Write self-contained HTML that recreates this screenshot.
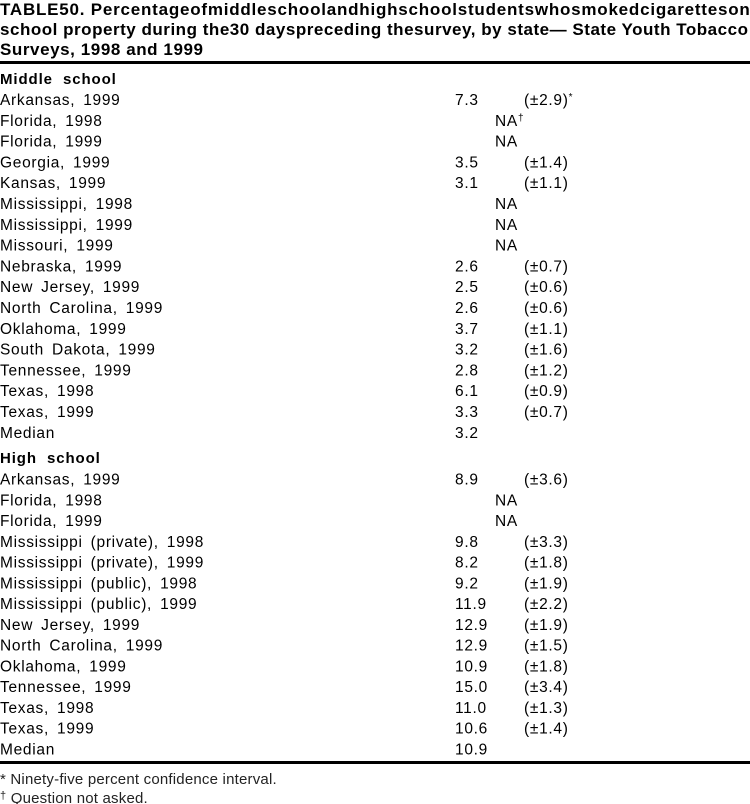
<!DOCTYPE html>
<html><head><meta charset="utf-8"><style>
html,body{margin:0;padding:0;background:#fff;}
svg{display:block;}
.t{font-family:"Liberation Sans",Arial,sans-serif;font-weight:bold;font-size:17px;fill:#000;}
.r{font-family:"Liberation Sans",Arial,sans-serif;font-size:15.5px;fill:#000;letter-spacing:0.7px;word-spacing:3px;}
.h{font-family:"Liberation Sans",Arial,sans-serif;font-size:15px;font-weight:bold;fill:#000;letter-spacing:0.9px;word-spacing:5px;}
.f{font-family:"Liberation Sans",Arial,sans-serif;font-size:15px;fill:#222;letter-spacing:0.2px;}
.s{font-size:10px;}
.fs{font-size:11px;}
</style></head><body>
<svg width="750" height="804" viewBox="0 0 750 804" xmlns="http://www.w3.org/2000/svg">
<text class="t" x="0" y="15" textLength="760" lengthAdjust="spacing">TABLE50. Percentageofmiddleschoolandhighschoolstudentswhosmokedcigarettesons</text>
<text class="t" x="0" y="35" textLength="748" lengthAdjust="spacing">school property during the30 dayspreceding thesurvey, by state— State Youth Tobacco</text>
<text class="t" x="0" y="55" textLength="203" lengthAdjust="spacing">Surveys, 1998 and 1999</text>
<rect x="0" y="61" width="750" height="3" fill="#000"/>

<text class="h" x="0" y="84">Middle school</text>
<g class="r">
<text x="0" y="105">Arkansas, 1999</text><text x="455" y="105">7.3</text><text x="524" y="105">(±2.9)<tspan class="s" dy="-5">*</tspan></text>
<text x="0" y="125.8">Florida, 1998</text><text x="495" y="125.8">NA<tspan class="s" dy="-5">†</tspan></text>
<text x="0" y="146.6">Florida, 1999</text><text x="495" y="146.6">NA</text>
<text x="0" y="167.4">Georgia, 1999</text><text x="455" y="167.4">3.5</text><text x="524" y="167.4">(±1.4)</text>
<text x="0" y="188.2">Kansas, 1999</text><text x="455" y="188.2">3.1</text><text x="524" y="188.2">(±1.1)</text>
<text x="0" y="209">Mississippi, 1998</text><text x="495" y="209">NA</text>
<text x="0" y="229.8">Mississippi, 1999</text><text x="495" y="229.8">NA</text>
<text x="0" y="250.6">Missouri, 1999</text><text x="495" y="250.6">NA</text>
<text x="0" y="271.4">Nebraska, 1999</text><text x="455" y="271.4">2.6</text><text x="524" y="271.4">(±0.7)</text>
<text x="0" y="292.2">New Jersey, 1999</text><text x="455" y="292.2">2.5</text><text x="524" y="292.2">(±0.6)</text>
<text x="0" y="313">North Carolina, 1999</text><text x="455" y="313">2.6</text><text x="524" y="313">(±0.6)</text>
<text x="0" y="333.8">Oklahoma, 1999</text><text x="455" y="333.8">3.7</text><text x="524" y="333.8">(±1.1)</text>
<text x="0" y="354.6">South Dakota, 1999</text><text x="455" y="354.6">3.2</text><text x="524" y="354.6">(±1.6)</text>
<text x="0" y="375.4">Tennessee, 1999</text><text x="455" y="375.4">2.8</text><text x="524" y="375.4">(±1.2)</text>
<text x="0" y="396.2">Texas, 1998</text><text x="455" y="396.2">6.1</text><text x="524" y="396.2">(±0.9)</text>
<text x="0" y="417">Texas, 1999</text><text x="455" y="417">3.3</text><text x="524" y="417">(±0.7)</text>
<text x="0" y="437.8">Median</text><text x="455" y="437.8">3.2</text>
</g>

<text class="h" x="0" y="463">High school</text>
<g class="r">
<text x="0" y="484.5">Arkansas, 1999</text><text x="455" y="484.5">8.9</text><text x="524" y="484.5">(±3.6)</text>
<text x="0" y="505.3">Florida, 1998</text><text x="495" y="505.3">NA</text>
<text x="0" y="526">Florida, 1999</text><text x="495" y="526">NA</text>
<text x="0" y="546.8">Mississippi (private), 1998</text><text x="455" y="546.8">9.8</text><text x="524" y="546.8">(±3.3)</text>
<text x="0" y="567.6">Mississippi (private), 1999</text><text x="455" y="567.6">8.2</text><text x="524" y="567.6">(±1.8)</text>
<text x="0" y="588.4">Mississippi (public), 1998</text><text x="455" y="588.4">9.2</text><text x="524" y="588.4">(±1.9)</text>
<text x="0" y="609.1">Mississippi (public), 1999</text><text x="455" y="609.1">11.9</text><text x="524" y="609.1">(±2.2)</text>
<text x="0" y="629.9">New Jersey, 1999</text><text x="455" y="629.9">12.9</text><text x="524" y="629.9">(±1.9)</text>
<text x="0" y="650.7">North Carolina, 1999</text><text x="455" y="650.7">12.9</text><text x="524" y="650.7">(±1.5)</text>
<text x="0" y="671.4">Oklahoma, 1999</text><text x="455" y="671.4">10.9</text><text x="524" y="671.4">(±1.8)</text>
<text x="0" y="692.2">Tennessee, 1999</text><text x="455" y="692.2">15.0</text><text x="524" y="692.2">(±3.4)</text>
<text x="0" y="713">Texas, 1998</text><text x="455" y="713">11.0</text><text x="524" y="713">(±1.3)</text>
<text x="0" y="733.7">Texas, 1999</text><text x="455" y="733.7">10.6</text><text x="524" y="733.7">(±1.4)</text>
<text x="0" y="754.5">Median</text><text x="455" y="754.5">10.9</text>
</g>
<rect x="0" y="761" width="750" height="3" fill="#000"/>

<text class="f" x="0" y="784">*  Ninety-five percent confidence interval.</text>
<text class="f" x="0" y="803"><tspan class="fs" dy="-4">†</tspan><tspan dy="4"> Question not asked.</tspan></text>
</svg>
</body></html>
